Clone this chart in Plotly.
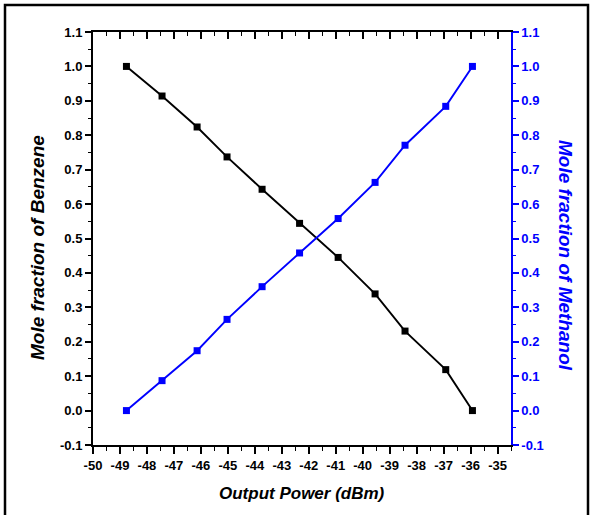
import plotly.graph_objects as go

power_dbm = [-48.76, -47.44, -46.14, -45.03, -43.73, -42.34, -40.91, -39.54, -38.43, -36.92, -35.93]
benzene = [1.0, 0.914, 0.824, 0.737, 0.643, 0.544, 0.445, 0.339, 0.231, 0.119, 0.0]
methanol = [0.0, 0.087, 0.174, 0.265, 0.36, 0.458, 0.558, 0.663, 0.771, 0.884, 1.0]

x_ticks = list(range(-50, -34))
y_ticks = [round(-0.1 + 0.1 * i, 1) for i in range(13)]

W, H = 591, 515
L, R, T, B = 93, 80, 32, 70
PW, PH = W - L - R, H - T - B

def px(x):
    return (x - L) / PW

def py(y):
    return (H - B - y) / PH

FONT = "Liberation Sans, Arial, sans-serif"
tickfont_k = dict(family=FONT, size=13, color="black", weight=700)
tickfont_b = dict(family=FONT, size=13, color="#0000ff", weight=700)

fig = go.Figure()
fig.add_trace(go.Scatter(
    x=power_dbm, y=benzene, mode="lines+markers",
    line=dict(color="black", width=1.9),
    marker=dict(symbol="square", size=7, color="black"),
    showlegend=False))
fig.add_trace(go.Scatter(
    x=power_dbm, y=methanol, mode="lines+markers", yaxis="y2",
    line=dict(color="#0000ff", width=1.9),
    marker=dict(symbol="square", size=7, color="#0000ff"),
    showlegend=False))
# carrier for the top axis
fig.add_trace(go.Scatter(
    x=power_dbm, y=benzene, xaxis="x2", mode="markers",
    marker=dict(opacity=0), hoverinfo="skip", showlegend=False))

xr = [-50, -34.5]
yr = [-0.1, 1.1]

fig.update_layout(
    width=W, height=H,
    margin=dict(l=L, r=R, t=T, b=B),
    paper_bgcolor="white", plot_bgcolor="white",
    xaxis=dict(
        range=xr, tickvals=x_ticks, ticktext=[str(v) for v in x_ticks],
        showgrid=False, zeroline=False, showline=True, linecolor="black", linewidth=2,
        ticks="outside", ticklen=7, tickwidth=1.5, tickcolor="black",
        minor=dict(dtick=0.5, tick0=-50, ticks="outside", ticklen=4, tickwidth=1.2, tickcolor="black"),
        tickfont=tickfont_k),
    xaxis2=dict(
        range=xr, overlaying="x", side="top", tickvals=x_ticks,
        showticklabels=False, showgrid=False, zeroline=False,
        showline=True, linecolor="black", linewidth=2,
        ticks="inside", ticklen=7, tickwidth=1.5, tickcolor="black",
        minor=dict(dtick=0.5, tick0=-50, ticks="inside", ticklen=4, tickwidth=1.2, tickcolor="black")),
    yaxis=dict(
        range=yr, tickvals=y_ticks, ticktext=[f"{v:.1f}" for v in y_ticks],
        showgrid=False, zeroline=False, showline=True, linecolor="black", linewidth=2,
        ticks="outside", ticklen=6, tickwidth=1.5, tickcolor="black",
        minor=dict(dtick=0.05, tick0=-0.1, ticks="outside", ticklen=3, tickwidth=1.2, tickcolor="black"),
        tickfont=tickfont_k),
    yaxis2=dict(
        range=yr, overlaying="y", side="right", tickvals=y_ticks,
        ticktext=[f"{v:.1f}" for v in y_ticks],
        showgrid=False, zeroline=False, showline=True, linecolor="#0000ff", linewidth=1.5,
        ticks="outside", ticklen=6, tickwidth=1.5, tickcolor="#0000ff",
        minor=dict(dtick=0.05, tick0=-0.1, ticks="outside", ticklen=3, tickwidth=1.2, tickcolor="#0000ff"),
        tickfont=tickfont_b),
    annotations=[
        dict(text="<b><i>Mole fraction of Benzene</i></b>", xref="paper", yref="paper",
             x=px(37), y=py(248), textangle=-90, showarrow=False,
             font=dict(family=FONT, size=19, color="black"), xanchor="center", yanchor="middle"),
        dict(text="<b><i>Mole fraction of Methanol</i></b>", xref="paper", yref="paper",
             x=px(566), y=py(255), textangle=90, showarrow=False,
             font=dict(family=FONT, size=19, color="#0000ff"), xanchor="center", yanchor="middle"),
        dict(text="<b><i>Output Power (dBm)</i></b>", xref="paper", yref="paper",
             x=px(302), y=py(494), showarrow=False,
             font=dict(family=FONT, size=17, color="black"), xanchor="center", yanchor="middle"),
    ],
    shapes=[
        dict(type="rect", xref="paper", yref="paper",
             x0=px(5), x1=px(588), y0=py(530), y1=py(5),
             line=dict(color="black", width=2.5), fillcolor="rgba(0,0,0,0)", layer="above"),
    ],
)

fig.write_html("out.html")
